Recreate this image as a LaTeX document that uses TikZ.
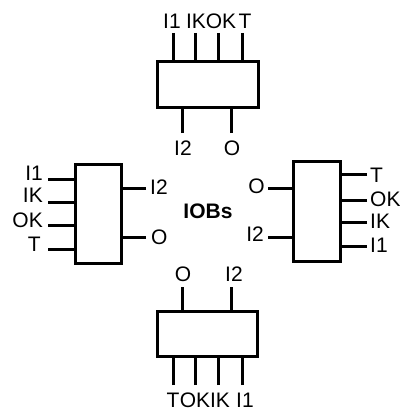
\documentclass[tikz,border=0pt]{standalone}
\usepackage{fontspec}
\setmainfont{Liberation Sans}
\begin{document}
\begin{tikzpicture}[x=1pt,y=-1pt,
  chip/.style={draw,line width=3pt,inner sep=0pt,outer sep=0pt},
  pin/.style={line width=3pt},
  lbl/.style={inner sep=0pt,font=\fontsize{21}{21}\selectfont},
  ttl/.style={inner sep=0pt,font=\bfseries\fontsize{21}{21}\selectfont}]
\useasboundingbox (0,0) rectangle (399,412);
% boxes
\node[chip,minimum width=101pt,minimum height=45pt] (top) at (207.5,84.5) {};
\node[chip,minimum width=46pt,minimum height=99pt] (left) at (98,213.5) {};
\node[chip,minimum width=47pt,minimum height=100pt] (right) at (316.5,211) {};
\node[chip,minimum width=100pt,minimum height=45pt] (bot) at (207.5,334) {};
\node[ttl] (iobs) at (208,211) {IOBs};
% top box pins
\foreach \n/\x in {ta/173,tb/195,tc/218,td/242}{
  \coordinate (\n) at (\x,33);
  \draw[pin] (\n) -- (\n |- top.north);
}
\foreach \n/\x in {te/182,tf/231}{
  \coordinate (\n) at (\x,133);
  \draw[pin] (\n) -- (\n |- top.south);
}
\node[lbl] (lta) at (172,21) {I1};
\node[lbl] (ltb) at (196,21) {IK};
\node[lbl] (ltc) at (221,21) {OK};
\node[lbl] (ltd) at (245,21) {T};
\node[lbl] (lte) at (183,148) {I2};
\node[lbl] (ltf) at (232,148) {O};
% left box pins
\foreach \n/\y in {la/179,lb/202,lc/225,ld/249}{
  \coordinate (\n) at (48,\y);
  \draw[pin] (\n) -- (\n -| left.west);
}
\foreach \n/\y in {le/188,lf/237}{
  \coordinate (\n) at (146,\y);
  \draw[pin] (\n) -- (\n -| left.east);
}
\node[lbl,anchor=east] (lla) at (43,173) {I1};
\node[lbl,anchor=east] (llb) at (43,195) {IK};
\node[lbl,anchor=east] (llc) at (43,220) {OK};
\node[lbl,anchor=east] (lld) at (41,244) {T};
\node[lbl,anchor=west] (lle) at (150,187) {I2};
\node[lbl,anchor=west] (llf) at (151,237) {O};
% right box pins
\foreach \n/\y in {ra/174,rb/200,rc/222,rd/246}{
  \coordinate (\n) at (367,\y);
  \draw[pin] (\n) -- (\n -| right.east);
}
\foreach \n/\y in {re/188,rf/237}{
  \coordinate (\n) at (268,\y);
  \draw[pin] (\n) -- (\n -| right.west);
}
\node[lbl,anchor=west] (lra) at (370,175) {T};
\node[lbl,anchor=west] (lrb) at (370,199) {OK};
\node[lbl,anchor=west] (lrc) at (370,221) {IK};
\node[lbl,anchor=west] (lrd) at (370,245) {I1};
\node[lbl,anchor=east] (lre) at (265,186) {O};
\node[lbl,anchor=east] (lrf) at (264,234) {I2};
% bottom box pins
\foreach \n/\x in {ba/173,bb/195,bc/218,bd/242}{
  \coordinate (\n) at (\x,385);
  \draw[pin] (\n) -- (\n |- bot.south);
}
\foreach \n/\x in {be/182,bf/231}{
  \coordinate (\n) at (\x,287);
  \draw[pin] (\n) -- (\n |- bot.north);
}
\node[lbl] (lba) at (173,400) {T};
\node[lbl] (lbb) at (195,400) {OK};
\node[lbl] (lbc) at (220,400) {IK};
\node[lbl] (lbd) at (245,400) {I1};
\node[lbl] (lbe) at (183,274) {O};
\node[lbl] (lbf) at (234,274) {I2};
\end{tikzpicture}
\end{document}
